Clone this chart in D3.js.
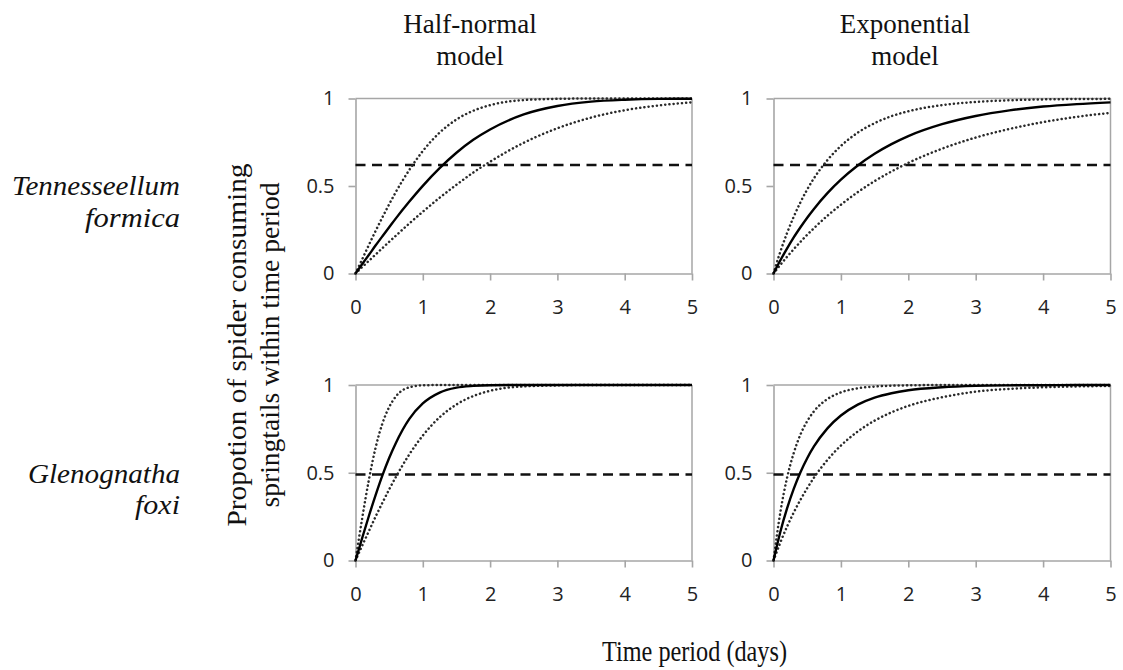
<!DOCTYPE html>
<html>
<head>
<meta charset="utf-8">
<script src="https://cdn.jsdelivr.net/npm/d3@7"></script>
<style>
  html, body { margin: 0; padding: 0; background: #fff; }
  svg { display: block; }
</style>
</head>
<body>
<svg id="chart" width="1123" height="670"></svg>
<script>
// Time points (days) at which each fitted curve is tabulated
const timeDays = [0, 0.1, 0.2, 0.3, 0.4, 0.5, 0.6, 0.8, 1, 1.25, 1.5, 1.75, 2, 2.5, 3, 3.5, 4, 4.5, 5];

// Tennesseellum formica — half-normal model (fit, upper and lower bounds)
const tfHalfNormalFit   = [0, .054, .107, .161, .213, .264, .315, .411, .501, .602, .690, .764, .823, .909, .957, .982, .993, .998, .999];
const tfHalfNormalUpper = [0, .082, .164, .244, .321, .395, .466, .592, .700, .805, .880, .930, .962, .991, .998, 1, 1, 1, 1];
const tfHalfNormalLower = [0, .037, .073, .109, .145, .181, .216, .286, .353, .433, .507, .577, .639, .747, .830, .891, .933, .960, .978];

// Tennesseellum formica — exponential model
const tfExponentialFit   = [0, .074, .142, .206, .264, .319, .369, .459, .536, .617, .684, .739, .785, .853, .900, .932, .954, .968, .978];
const tfExponentialUpper = [0, .123, .230, .324, .407, .480, .544, .648, .729, .805, .859, .899, .927, .962, .980, .990, .995, .997, .998];
const tfExponentialLower = [0, .049, .095, .139, .181, .221, .259, .330, .393, .465, .528, .583, .632, .713, .777, .826, .865, .895, .918];

// Glenognatha foxi — half-normal model
const gfHalfNormalFit   = [0, .129, .255, .374, .485, .584, .670, .807, .895, .957, .985, .995, .999, 1, 1, 1, 1, 1, 1];
const gfHalfNormalUpper = [0, .242, .462, .645, .781, .874, .935, .987, .998, 1, 1, 1, 1, 1, 1, 1, 1, 1, 1];
const gfHalfNormalLower = [0, .085, .168, .251, .329, .405, .476, .605, .712, .816, .889, .937, .967, .992, .998, 1, 1, 1, 1];

// Glenognatha foxi — exponential model
const gfExponentialFit   = [0, .161, .295, .408, .503, .583, .650, .753, .826, .888, .928, .953, .970, .987, .995, .998, .999, 1, 1];
const gfExponentialUpper = [0, .271, .469, .612, .718, .794, .850, .920, .958, .981, .991, .996, .998, 1, 1, 1, 1, 1, 1];
const gfExponentialLower = [0, .101, .192, .273, .346, .412, .472, .573, .655, .735, .797, .844, .881, .930, .962, .978, .987, .992, .995];

// Observed proportion of spiders consuming springtails (horizontal reference)
const tfObserved = 0.62;
const gfObserved = 0.49;

// Axis ticks
const xTicks = [0, 1, 2, 3, 4, 5];
const yTicks = [0, 0.5, 1];

// Labels
const modelTitles = [["Half-normal", "model"], ["Exponential", "model"]];
const speciesNames = [["Tennesseellum", "formica"], ["Glenognatha", "foxi"]];
const yAxisTitle = ["Propotion of spider consuming", "springtails within time period"];
const xAxisTitle = "Time period (days)";

// ---- layout ----
const colSpans = [[355.5, 692], [773.5, 1110.5]];
const rowSpans = [[98.5, 273.5], [385, 560.5]];
const axisGrey = "#a6a6a6";
const tickFont = "'Open Sans', 'DejaVu Sans', sans-serif";
const serif = "'Liberation Serif', 'Times New Roman', serif";
const tickLabel = d => (d === 0.5 ? "0.5" : d3.format("d")(d));

const panels = [
  { row: 0, col: 0, fit: tfHalfNormalFit,  upper: tfHalfNormalUpper,  lower: tfHalfNormalLower,  obs: tfObserved },
  { row: 0, col: 1, fit: tfExponentialFit, upper: tfExponentialUpper, lower: tfExponentialLower, obs: tfObserved },
  { row: 1, col: 0, fit: gfHalfNormalFit,  upper: gfHalfNormalUpper,  lower: gfHalfNormalLower,  obs: gfObserved },
  { row: 1, col: 1, fit: gfExponentialFit, upper: gfExponentialUpper, lower: gfExponentialLower, obs: gfObserved }
];

const svg = d3.select("#chart");

panels.forEach(p => {
  const x = d3.scaleLinear().domain([0, 5]).range(colSpans[p.col]);
  const y = d3.scaleLinear().domain([0, 1]).range([rowSpans[p.row][1], rowSpans[p.row][0]]);
  const g = svg.append("g");

  // plot-area border along the top (y = 1) and right (x = 5)
  g.append("line")
    .attr("x1", x(0)).attr("x2", x(5)).attr("y1", y(1)).attr("y2", y(1))
    .attr("stroke", axisGrey).attr("stroke-width", 1.5);
  g.append("line")
    .attr("x1", x(5)).attr("x2", x(5)).attr("y1", y(1)).attr("y2", y(0))
    .attr("stroke", axisGrey).attr("stroke-width", 1.5);

  // axes
  const yAxis = g.append("g")
    .attr("transform", `translate(${x(0)},0)`)
    .call(d3.axisLeft(y).tickValues(yTicks).tickSize(7).tickSizeOuter(0).tickPadding(14)
      .tickFormat(tickLabel));
  const xAxis = g.append("g")
    .attr("transform", `translate(0,${y(0)})`)
    .call(d3.axisBottom(x).tickValues(xTicks).tickSize(7).tickSizeOuter(0).tickPadding(19)
      .tickFormat(tickLabel));
  [yAxis, xAxis].forEach(a => {
    a.select(".domain").attr("stroke", axisGrey).attr("stroke-width", 1.6);
    a.selectAll(".tick line").attr("stroke", axisGrey).attr("stroke-width", 1.6);
    a.selectAll(".tick text")
      .attr("fill", "#222")
      .style("font-family", tickFont)
      .style("font-size", "20px");
  });

  // observed proportion (dashed)
  g.append("line")
    .attr("x1", x(0)).attr("x2", x(5)).attr("y1", y(p.obs)).attr("y2", y(p.obs))
    .attr("stroke", "#111").attr("stroke-width", 2.3)
    .attr("stroke-dasharray", "10 6.5");

  const line = d3.line()
    .x((d, i) => x(timeDays[i]))
    .y(d => y(d))
    .curve(d3.curveMonotoneX);

  // bounds (dotted)
  [p.upper, p.lower].forEach(series => {
    g.append("path")
      .attr("d", line(series))
      .attr("fill", "none")
      .attr("stroke", "#2a2a2a")
      .attr("stroke-width", 2.5)
      .attr("stroke-linecap", "round")
      .attr("stroke-dasharray", "0.1 4.1");
  });

  // fitted curve (solid)
  g.append("path")
    .attr("d", line(p.fit))
    .attr("fill", "none")
    .attr("stroke", "#000")
    .attr("stroke-width", 2.4);
});

// column titles
const titleCenters = [470, 905];
modelTitles.forEach((lines, i) => {
  lines.forEach((t, j) => {
    svg.append("text")
      .attr("x", titleCenters[i]).attr("y", 33 + j * 32)
      .attr("text-anchor", "middle")
      .style("font-family", serif).style("font-size", "27px").attr("fill", "#111")
      .text(t);
  });
});

// species names (row labels)
const speciesBaselines = [[195, 227], [483, 514]];
const speciesWidths = [[168, 95], [152, 45]];
speciesNames.forEach((lines, i) => {
  lines.forEach((t, j) => {
    svg.append("text")
      .attr("x", 180).attr("y", speciesBaselines[i][j])
      .attr("text-anchor", "end")
      .attr("textLength", speciesWidths[i][j]).attr("lengthAdjust", "spacingAndGlyphs")
      .style("font-family", serif).style("font-style", "italic").style("font-size", "28px")
      .attr("fill", "#111")
      .text(t);
  });
});

// y-axis title (two rotated lines)
const yTitleBaselines = [246, 279];
const yTitleWidths = [363, 325];
yAxisTitle.forEach((t, j) => {
  svg.append("text")
    .attr("transform", `translate(${yTitleBaselines[j]},345) rotate(-90)`)
    .attr("text-anchor", "middle")
    .attr("textLength", yTitleWidths[j]).attr("lengthAdjust", "spacingAndGlyphs")
    .style("font-family", serif).style("font-size", "28px").attr("fill", "#111")
    .text(t);
});

// x-axis title
svg.append("text")
  .attr("x", 694.5).attr("y", 661)
  .attr("text-anchor", "middle")
  .attr("textLength", 185).attr("lengthAdjust", "spacingAndGlyphs")
  .style("font-family", serif).style("font-size", "29px").attr("fill", "#111")
  .text(xAxisTitle);
</script>
</body>
</html>
